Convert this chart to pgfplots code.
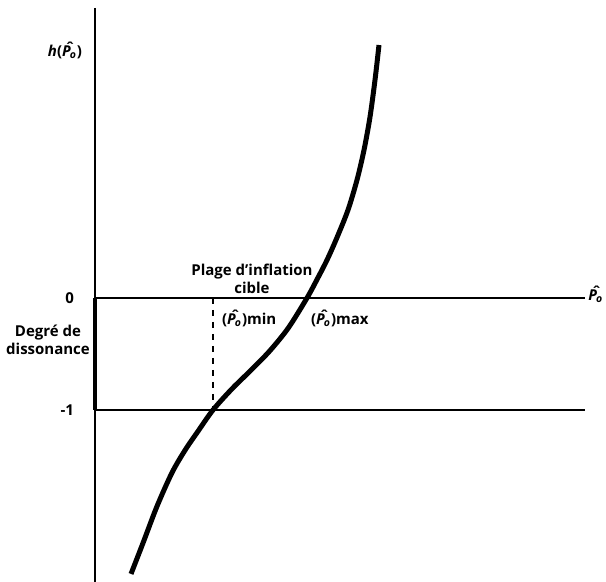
\documentclass[border=0pt]{standalone}
\usepackage{pgfplots}
\pgfplotsset{compat=1.18}
\usepackage{fontspec}
\setmainfont{Open Sans}
\newcommand{\Po}{\rlap{\kern0.24em\raisebox{0.2em}{\char"02C6}}\textit{P}\kern-0.5pt\textsubscript{\textit{o}}}

\begin{document}
\begin{tikzpicture}[every node/.style={font=\bfseries\fontsize{7.5}{9}\selectfont}]
\begin{axis}[
    scale only axis,
    width=303pt, height=291pt,
    xmin=-0.95, xmax=5.11,
    ymin=-2.536, ymax=2.661,
    axis lines=none,
    clip=false,
]
% courbe h(P)
\addplot[black, line width=2.5pt, smooth] coordinates {
    (0.36,-2.464) (0.48,-2.188) (0.62,-1.86) (0.77,-1.56) (0.90,-1.36)
    (1.03,-1.19) (1.18,-1.0) (1.368,-0.813) (1.556,-0.648) (1.744,-0.476)
    (1.932,-0.269) (2.12,0) (2.22,0.165) (2.32,0.339)
    (2.42,0.54) (2.53,0.786) (2.62,1.054) (2.69,1.321) (2.75,1.616)
    (2.80,1.946) (2.84,2.259)
};
% axes et reperes
\addplot[black, line width=0.8pt] coordinates {(0,2.59) (0,-2.536)};
\addplot[black, line width=1.6pt] coordinates {(0,0) (0,-1)};
\addplot[black, line width=0.8pt] coordinates {(0,0) (4.9,0)};
\addplot[black, line width=0.8pt] coordinates {(0,-1) (4.9,-1)};
\addplot[black, line width=1.4pt] coordinates {(1.18,0) (2.12,0)};
\addplot[black, line width=0.8pt, dashed] coordinates {(1.18,0) (1.18,-1)};

\node at (axis cs:-0.30,2.21) {\textit{h}(\Po)};
\node[anchor=east] at (axis cs:-0.14,0) {0};
\node[anchor=east] at (axis cs:-0.14,-1) {-1};
\node[align=center] at (axis cs:-0.47,-0.375) {Degré de\\dissonance};
\node[align=center] at (axis cs:1.57,0.17) {Plage d'inflation\\cible};
\node[anchor=west] at (axis cs:1.20,-0.18) {(\Po)min};
\node[anchor=west] at (axis cs:2.09,-0.18) {(\Po)max};
\node[anchor=west, inner sep=0pt] at (axis cs:4.93,0.03) {\Po};
\end{axis}
\pgfresetboundingbox
\useasboundingbox (0,0) rectangle (303pt,291pt);
\end{tikzpicture}
\end{document}
